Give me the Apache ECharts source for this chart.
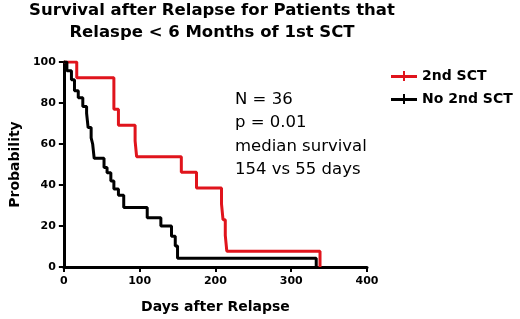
<!DOCTYPE html>
<html>
<head>
<meta charset="utf-8">
<title>Survival after Relapse</title>
<script src="https://cdn.jsdelivr.net/npm/echarts@6/dist/echarts.min.js"></script>
<style>
    html, body { margin: 0; padding: 0; background: #fff; }
    #chart { width: 520px; height: 319px; }
</style>
</head>
<body>
<div id="chart"></div>
<script>
// Kaplan-Meier steps (days, % surviving)
var sctDays = [0, 17, 66, 72, 94, 96, 155, 175, 208, 210, 213, 215, 338];
var sctSurv = [100, 92.3, 76.9, 69.2, 61.5, 53.8, 46.2, 38.5, 30.8, 23.1, 15.4, 7.7, 0];

var noSctDays = [0, 4, 10, 14, 19, 25, 30, 32, 36, 38, 40, 53, 57, 62, 66, 72, 79, 110, 128, 142, 147, 150, 333];
var noSctSurv = [100, 95.7, 91.3, 86, 82.6, 78.3, 75, 68, 63, 60, 53, 48.5, 46, 42, 38, 35, 29, 24, 20, 15, 10.3, 4.3, 0];

var seriesNames = ['2nd SCT', 'No 2nd SCT'];
var titleLines = ['Survival after Relapse for Patients that', 'Relaspe < 6 Months of 1st SCT'];
var noteLines = ['N = 36', 'p = 0.01', 'median survival', '154 vs 55 days'];

var FONT = '"DejaVu Sans", sans-serif';

function pairs(xs, ys) {
    var out = [];
    for (var i = 0; i < xs.length; i++) {
        out.push([xs[i], ys[i]]);
    }
    return out;
}

// legend glyph: line with a small censor tick
var legendIcon = 'path://M0,5L26,5L26,8L0,8Z M12,1L14,1L14,11L12,11Z';

var myChart = echarts.init(document.getElementById('chart'), null, { renderer: 'canvas' });

var option = {
    animation: false,
    backgroundColor: '#fff',
    grid: {
        left: 56,
        right: 153,
        top: 62,
        bottom: 51
    },
    legend: {
        orient: 'vertical',
        left: 386,
        top: 64,
        itemWidth: 26,
        itemHeight: 14,
        itemGap: 9,
        icon: legendIcon,
        data: seriesNames,
        textStyle: {
            fontFamily: FONT,
            fontWeight: 'bold',
            fontSize: 14,
            color: '#000'
        }
    },
    xAxis: {
        type: 'value',
        min: 0,
        max: 400,
        interval: 100,
        name: 'Days after Relapse',
        nameLocation: 'middle',
        nameGap: 33,
        nameTextStyle: {
            fontFamily: FONT,
            fontWeight: 'bold',
            fontSize: 14,
            color: '#000'
        },
        axisLine: { lineStyle: { color: '#000', width: 3 } },
        axisTick: { length: 5, lineStyle: { color: '#000', width: 2 } },
        axisLabel: {
            margin: 9,
            fontFamily: FONT,
            fontWeight: 'bold',
            fontSize: 11,
            color: '#000'
        },
        splitLine: { show: false }
    },
    yAxis: {
        type: 'value',
        min: 0,
        max: 100,
        interval: 20,
        name: 'Probability',
        nameLocation: 'middle',
        nameGap: 36,
        nameTextStyle: {
            fontFamily: FONT,
            fontWeight: 'bold',
            fontSize: 14,
            color: '#000'
        },
        axisLine: { show: true, lineStyle: { color: '#000', width: 3 } },
        axisTick: { show: true, length: 5, lineStyle: { color: '#000', width: 2 } },
        axisLabel: {
            margin: 8,
            fontFamily: FONT,
            fontWeight: 'bold',
            fontSize: 11,
            color: '#000'
        },
        splitLine: { show: false }
    },
    series: [{
        name: seriesNames[0],
        type: 'line',
        step: 'end',
        showSymbol: false,
        data: pairs(sctDays, sctSurv),
        itemStyle: { color: '#e0141c' },
        lineStyle: { color: '#e0141c', width: 3 },
        z: 2
    }, {
        name: seriesNames[1],
        type: 'line',
        step: 'end',
        showSymbol: false,
        data: pairs(noSctDays, noSctSurv),
        itemStyle: { color: '#000' },
        lineStyle: { color: '#000', width: 3 },
        z: 3
    }],
    graphic: [{
        type: 'text',
        x: 212,
        y: -1,
        style: {
            text: titleLines.join('\n'),
            align: 'center',
            verticalAlign: 'top',
            lineHeight: 22.5,
            font: 'bold 16.5px ' + FONT,
            fill: '#000'
        }
    }, {
        type: 'text',
        x: 235,
        y: 88,
        style: {
            text: noteLines.join('\n'),
            align: 'left',
            verticalAlign: 'top',
            lineHeight: 23.3,
            font: '16.5px ' + FONT,
            fill: '#000'
        }
    }]
};

myChart.setOption(option);
</script>
</body>
</html>
